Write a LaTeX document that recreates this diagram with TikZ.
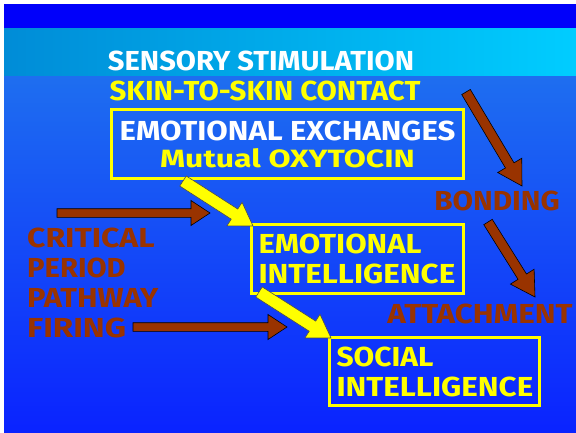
\documentclass[tikz,border=0pt]{standalone}
\usepackage{fontspec}
\usepackage{graphicx}
\setmainfont{Fira Sans}
\usetikzlibrary{calc}
\definecolor{brn}{RGB}{153,51,0}
\definecolor{ylw}{RGB}{255,255,0}
\definecolor{bandtop}{RGB}{0,0,250}
\definecolor{cyL}{RGB}{0,140,215}
\definecolor{cyR}{RGB}{0,205,255}
\definecolor{bgA}{RGB}{30,110,240}
\definecolor{bgB}{RGB}{40,165,255}
\definecolor{bgC}{RGB}{10,35,255}
\newcommand\wt[2]{\scalebox{#1}[1]{#2}}
\newcommand\blockarrow[6]{%
  \coordinate (bac) at ($(#3)!#6!(#2)$);
  \filldraw[#1] ($(#2)!#4!90:(#3)$) -- ($(bac)!#4!90:(#3)$) -- ($(bac)!#5!90:(#3)$) -- (#3) -- ($(bac)!#5!-90:(#3)$) -- ($(bac)!#4!-90:(#3)$) -- ($(#2)!#4!-90:(#3)$) -- cycle;}
\begin{document}
\begin{tikzpicture}[x=1pt,y=-1pt,
  txt/.style={font=\fontsize{27.5}{30}\selectfont\bfseries, inner sep=0pt},
  boxed/.style={draw=ylw, line width=3pt, inner ysep=0pt, inner xsep=7pt, anchor=north west},
  brnarrow/.style={fill=brn, draw=black, line width=0.6pt, line join=miter},
  ylwarrow/.style={fill=ylw, draw=black!70, line width=0.6pt, line join=miter}]
\useasboundingbox (0,0) rectangle (576,432);
\fill[white] (0,0) rectangle (576,432);
\fill[bandtop] (4,4) rectangle (576,28);
\shade[left color=cyL, right color=cyR] (4,28) rectangle (576,76);
\shade[top color=bgA, middle color=bgB, bottom color=bgC] (4,76) rectangle (576,432);

% texts
\node[txt, anchor=base, text=white] (sens) at (261,70) {\wt{1.06}{SENSORY STIMULATION}};
\node[txt, anchor=base, text=ylw] (skin) at (265,100) {\wt{1.07}{SKIN-TO-SKIN CONTACT}};
\node[txt, boxed, minimum width=352pt, minimum height=69pt, align=center] (exch) at (110,108)
  {\textcolor{white}{\wt{1.13}{EMOTIONAL EXCHANGES}}\\[-3pt]{\fontsize{25}{28}\selectfont\textcolor{ylw}{\wt{1.28}{Mutual OXYTOCIN}}}};
\node[txt, anchor=base, text=brn] (bond) at (497,210) {\wt{1.08}{BONDING}};
\node[txt, anchor=base, text=brn] (att) at (480,323) {\wt{1.14}{ATTACHMENT}};
\node[txt, boxed, text=ylw, minimum width=212pt, minimum height=69pt, text width=198pt, align=left] (emo) at (250,223)
  {\wt{1.13}{EMOTIONAL}\\\wt{1.14}{INTELLIGENCE}};
\node[txt, boxed, text=ylw, minimum width=210pt, minimum height=68pt, text width=196pt, align=left] (soc) at (328,336)
  {\wt{1.09}{SOCIAL}\\\wt{1.14}{INTELLIGENCE}};
\node[txt, anchor=north west, align=left, text=brn] (crit) at (27,228)
  {\wt{1.16}{CRITICAL}\\\wt{1.06}{PERIOD}\\\wt{1.12}{PATHWAY}\\\wt{1.2}{FIRING}};

% connector end points
\coordinate (a1s) at (57,213);   \coordinate (a1e) at (210,213);
\coordinate (a2s) at (133,327);  \coordinate (a2e) at (287,327);
\coordinate (b1s) at (466,92);   \coordinate (b1e) at (522,186);
\coordinate (b2s) at (488,222);  \coordinate (b2e) at (535,297);
\coordinate (y1s) at (183,181);  \coordinate (y1e) at (253,226);
\coordinate (y2s) at (259,292);  \coordinate (y2e) at (331,338);

\blockarrow{brnarrow}{a1s}{a1e}{4.3pt}{12.5pt}{19pt}
\blockarrow{brnarrow}{a2s}{a2e}{4.3pt}{12.5pt}{19pt}
\blockarrow{brnarrow}{b1s}{b1e}{5pt}{14pt}{24pt}
\blockarrow{brnarrow}{b2s}{b2e}{5pt}{14pt}{24pt}
\blockarrow{ylwarrow}{y1s}{y1e}{6pt}{14pt}{22pt}
\blockarrow{ylwarrow}{y2s}{y2e}{6pt}{14pt}{22pt}
\end{tikzpicture}
\end{document}
